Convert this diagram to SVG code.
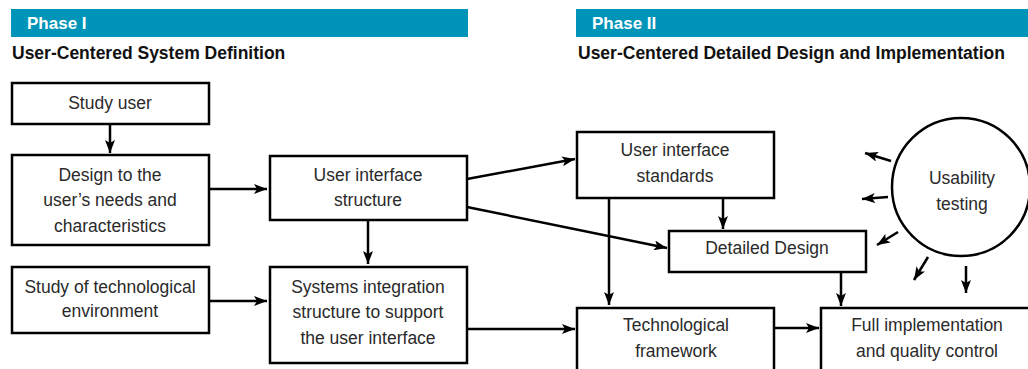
<svg xmlns="http://www.w3.org/2000/svg" width="1028" height="369" viewBox="0 0 1028 369">
  <style>
    .bar { fill: #0094b8; }
    .phase { font-family: "Liberation Sans", Arial, sans-serif; font-weight: bold; font-size: 17px; fill: #ffffff; }
    .sub { font-family: "Liberation Sans", Arial, sans-serif; font-weight: bold; font-size: 17.5px; fill: #111111; }
    .box { fill: #ffffff; stroke: #000000; stroke-width: 2.5; }
    .lbl { font-family: "Liberation Sans", Arial, sans-serif; font-size: 17.5px; fill: #2a2a2a; text-anchor: middle; }
    .conn { fill: none; stroke: #000000; stroke-width: 2.5; marker-end: url(#arrow); }
  </style>
  <defs>
    <marker id="arrow" markerUnits="userSpaceOnUse" markerWidth="15" markerHeight="10" refX="13" refY="5" orient="auto">
      <path d="M0,0 L13,5 L0,10 L3,5 Z" fill="#000000"/>
    </marker>
  </defs>

  <!-- phase headers -->
  <g id="phase1">
    <rect class="bar" x="11" y="9" width="457" height="28"/>
    <text class="phase" x="27" y="29">Phase I</text>
    <text class="sub" x="12" y="59">User-Centered System Definition</text>
  </g>
  <g id="phase2">
    <rect class="bar" x="576" y="9" width="452" height="28"/>
    <text class="phase" x="592" y="29">Phase II</text>
    <text class="sub" x="578" y="59">User-Centered Detailed Design and Implementation</text>
  </g>

  <!-- connectors -->
  <g id="connectors">
    <path class="conn" d="M110,124 V153"/>
    <path class="conn" d="M209,189 H267"/>
    <path class="conn" d="M368,220 V264"/>
    <path class="conn" d="M209,301 H267"/>
    <path class="conn" d="M467,179 L575,159"/>
    <path class="conn" d="M467,207 L667,248"/>
    <path class="conn" d="M723,198 V229"/>
    <path class="conn" d="M609,198 V305"/>
    <path class="conn" d="M467,329 H575"/>
    <path class="conn" d="M774,328 H819"/>
    <path class="conn" d="M841,272 V306"/>
    <!-- feedback from usability testing -->
    <path class="conn" d="M891,161 L865,153"/>
    <path class="conn" d="M888,197 L862,199"/>
    <path class="conn" d="M898,232 L877,245"/>
    <path class="conn" d="M928,257 L914,280"/>
    <path class="conn" d="M966,266 V293"/>
  </g>

  <!-- phase I nodes -->
  <g id="study-user">
    <rect class="box" x="12" y="83" width="197" height="41"/>
    <text class="lbl" x="110" y="109">Study user</text>
  </g>
  <g id="design-needs">
    <rect class="box" x="12" y="155" width="197" height="90"/>
    <text class="lbl" x="110" y="181">Design to the</text>
    <text class="lbl" x="110" y="206">user’s needs and</text>
    <text class="lbl" x="110" y="232">characteristics</text>
  </g>
  <g id="ui-structure">
    <rect class="box" x="270" y="156" width="197" height="64"/>
    <text class="lbl" x="368" y="181">User interface</text>
    <text class="lbl" x="368" y="206">structure</text>
  </g>
  <g id="study-tech">
    <rect class="box" x="12" y="267" width="197" height="66"/>
    <text class="lbl" x="110" y="293">Study of technological</text>
    <text class="lbl" x="110" y="317">environment</text>
  </g>
  <g id="systems-integration">
    <rect class="box" x="270" y="267" width="197" height="96"/>
    <text class="lbl" x="368" y="293">Systems integration</text>
    <text class="lbl" x="368" y="318">structure to support</text>
    <text class="lbl" x="368" y="344">the user interface</text>
  </g>

  <!-- phase II nodes -->
  <g id="ui-standards">
    <rect class="box" x="577" y="132" width="197" height="66"/>
    <text class="lbl" x="675" y="156">User interface</text>
    <text class="lbl" x="675" y="182">standards</text>
  </g>
  <g id="detailed-design">
    <rect class="box" x="669" y="231" width="197" height="41"/>
    <text class="lbl" x="767" y="254">Detailed Design</text>
  </g>
  <g id="tech-framework">
    <rect class="box" x="577" y="308" width="197" height="80"/>
    <text class="lbl" x="676" y="331">Technological</text>
    <text class="lbl" x="676" y="357">framework</text>
  </g>
  <g id="full-implementation">
    <rect class="box" x="821" y="308" width="220" height="80"/>
    <text class="lbl" x="927" y="331">Full implementation</text>
    <text class="lbl" x="927" y="357">and quality control</text>
  </g>
  <g id="usability-testing">
    <circle class="box" cx="961" cy="187" r="69"/>
    <text class="lbl" x="962" y="184">Usability</text>
    <text class="lbl" x="962" y="210">testing</text>
  </g>
</svg>
